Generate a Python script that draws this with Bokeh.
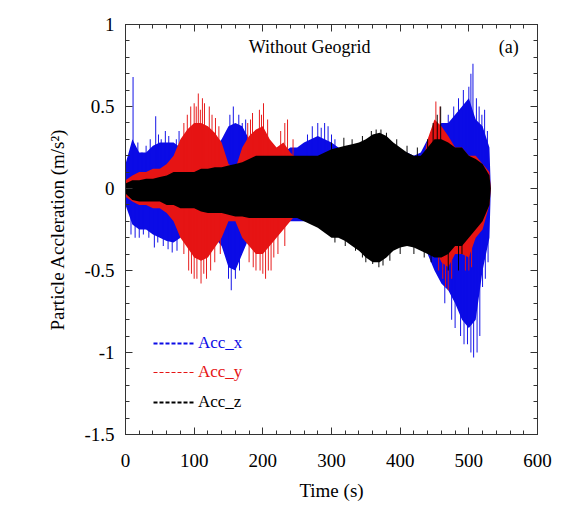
from bokeh.plotting import figure
from bokeh.models import (LinearAxis, SingleIntervalTicker, Label, Legend, LegendItem)
from bokeh.embed import file_html
from bokeh.resources import INLINE

# ---- data (envelopes, every 10 s) ----
time = [0, 10, 20, 30, 40, 50, 60, 70, 80, 90, 100, 110, 120, 130, 140, 150, 160, 170, 180, 190,
        200, 210, 220, 230, 240, 250, 260, 270, 280, 290, 300, 310, 320, 330, 340, 350, 360, 370,
        380, 390, 400, 410, 420, 430, 440, 450, 460, 470, 480, 490, 500, 510, 520, 530, 532]

acc_x_upper = [0.15, 0.3, 0.22, 0.22, 0.26, 0.28, 0.28, 0.28, 0.25, 0.2, 0.2, 0.2, 0.22, 0.25, 0.3,
               0.38, 0.4, 0.38, 0.3, 0.25, 0.25, 0.22, 0.22, 0.22, 0.25, 0.25, 0.28, 0.3, 0.32, 0.3,
               0.28, 0.25, 0.22, 0.2, 0.2, 0.2, 0.2, 0.2, 0.2, 0.2, 0.22, 0.22, 0.2, 0.22, 0.3,
               0.35, 0.4, 0.4, 0.45, 0.5, 0.55, 0.42, 0.38, 0.25, 0.0]
acc_x_lower = [-0.1, -0.22, -0.25, -0.25, -0.28, -0.3, -0.32, -0.33, -0.3, -0.25, -0.25, -0.25,
               -0.25, -0.3, -0.35, -0.48, -0.5, -0.4, -0.3, -0.25, -0.25, -0.2, -0.2, -0.2, -0.2,
               -0.2, -0.2, -0.2, -0.22, -0.25, -0.25, -0.25, -0.25, -0.25, -0.25, -0.25, -0.25,
               -0.25, -0.25, -0.25, -0.25, -0.25, -0.28, -0.3, -0.4, -0.5, -0.58, -0.62, -0.7,
               -0.8, -0.85, -0.8, -0.5, -0.3, 0.0]

acc_y_upper = [0.05, 0.08, 0.1, 0.1, 0.12, 0.12, 0.15, 0.2, 0.3, 0.36, 0.4, 0.4, 0.38, 0.34, 0.28,
               0.15, 0.12, 0.25, 0.32, 0.36, 0.38, 0.3, 0.25, 0.28, 0.22, 0.18, 0.15, 0.12, 0.1,
               0.1, 0.1, 0.1, 0.1, 0.1, 0.1, 0.1, 0.1, 0.1, 0.1, 0.1, 0.1, 0.1, 0.1, 0.1, 0.3,
               0.42, 0.38, 0.32, 0.25, 0.25, 0.2, 0.2, 0.15, 0.1, 0.0]
acc_y_lower = [-0.05, -0.08, -0.1, -0.1, -0.12, -0.12, -0.15, -0.2, -0.3, -0.36, -0.42, -0.44,
               -0.42, -0.36, -0.3, -0.2, -0.2, -0.3, -0.35, -0.4, -0.4, -0.35, -0.3, -0.25, -0.2,
               -0.15, -0.12, -0.12, -0.12, -0.12, -0.12, -0.12, -0.12, -0.12, -0.12, -0.12, -0.12,
               -0.12, -0.12, -0.12, -0.12, -0.12, -0.12, -0.12, -0.25, -0.35, -0.45, -0.48, -0.4,
               -0.4, -0.42, -0.3, -0.25, -0.1, 0.0]

acc_z_upper = [0.03, 0.05, 0.05, 0.06, 0.06, 0.07, 0.08, 0.1, 0.1, 0.1, 0.1, 0.12, 0.12, 0.13,
               0.13, 0.14, 0.15, 0.16, 0.18, 0.2, 0.2, 0.2, 0.2, 0.2, 0.2, 0.2, 0.2, 0.2, 0.2,
               0.22, 0.24, 0.25, 0.26, 0.27, 0.28, 0.3, 0.33, 0.34, 0.32, 0.28, 0.25, 0.22, 0.2,
               0.2, 0.25, 0.3, 0.3, 0.28, 0.25, 0.25, 0.2, 0.18, 0.15, 0.08, 0.0]
acc_z_lower = [-0.03, -0.07, -0.08, -0.08, -0.08, -0.08, -0.1, -0.1, -0.12, -0.12, -0.12, -0.14,
               -0.15, -0.15, -0.15, -0.16, -0.17, -0.17, -0.18, -0.18, -0.18, -0.18, -0.18, -0.18,
               -0.18, -0.18, -0.2, -0.22, -0.24, -0.27, -0.3, -0.3, -0.32, -0.35, -0.38, -0.42,
               -0.45, -0.45, -0.42, -0.38, -0.36, -0.35, -0.36, -0.38, -0.4, -0.42, -0.42, -0.4,
               -0.35, -0.35, -0.3, -0.25, -0.2, -0.1, 0.0]

# individual peaks standing out of the envelopes (time, value)
x_peak_t = [5, 11, 18, 24, 30, 36, 44, 48, 52, 58, 63, 74, 78, 152, 157, 165, 170, 175,
            265, 272, 280, 285, 290, 295, 300, 305,
            470, 478, 485, 492, 496, 500, 503, 506, 511, 515, 519, 523, 527,
            8, 14, 20, 26, 34, 42, 47, 55, 62, 68, 75, 150, 154, 160, 166,
            465, 475, 480, 488, 493, 498, 503, 507, 512, 516, 520, 524, 528]
x_peak_v = [0.2, 0.68, 0.28, 0.22, 0.26, 0.3, 0.44, 0.33, 0.3, 0.35, 0.32, 0.3, 0.35,
            0.45, 0.5, 0.45, 0.4, 0.42,
            0.33, 0.38, 0.4, 0.37, 0.4, 0.38, 0.33, 0.3,
            0.45, 0.5, 0.55, 0.6, 0.5, 0.62, 0.7, 0.76, 0.55, 0.5, 0.45, 0.48, 0.35,
            -0.28, -0.3, -0.3, -0.28, -0.3, -0.36, -0.33, -0.35, -0.37, -0.39, -0.38,
            -0.55, -0.62, -0.55, -0.5,
            -0.7, -0.8, -0.85, -0.9, -0.95, -0.95, -1.0, -1.03, -1.0, -0.9, -0.6, -0.55, -0.45]
y_peak_t = [85, 90, 95, 100, 103, 106, 109, 112, 115, 122, 126, 131, 136,
            178, 182, 185, 195, 198, 201, 207, 226, 232, 236, 244, 452, 458,
            85, 92, 96, 100, 104, 110, 114, 118, 124, 130, 138,
            180, 186, 190, 196, 200, 204, 208, 212, 216, 222, 232,
            456, 462, 466, 470, 475, 495, 500, 504]
y_peak_v = [0.4, 0.45, 0.5, 0.52, 0.5, 0.58, 0.48, 0.55, 0.52, 0.5, 0.45, 0.43, 0.38,
            0.4, 0.42, 0.46, 0.48, 0.45, 0.52, 0.42, 0.35, 0.4, 0.42, 0.3, 0.53, 0.5,
            -0.4, -0.5, -0.52, -0.55, -0.55, -0.58, -0.52, -0.55, -0.5, -0.45, -0.4,
            -0.45, -0.48, -0.5, -0.5, -0.52, -0.55, -0.5, -0.5, -0.42, -0.4, -0.35,
            -0.5, -0.55, -0.6, -0.62, -0.55, -0.5, -0.5, -0.48]
z_peak_t = [300, 318, 330, 345, 358, 365, 372, 380, 395, 410, 425, 440, 448, 454, 459,
            305, 320, 335, 345, 350, 360, 369, 375, 385, 400, 420, 435, 445, 470, 485, 490]
z_peak_v = [0.28, 0.31, 0.3, 0.32, 0.35, 0.36, 0.36, 0.34, 0.3, 0.26, 0.25, 0.3, 0.4, 0.45, 0.5,
            -0.33, -0.35, -0.38, -0.42, -0.45, -0.46, -0.48, -0.47, -0.44, -0.4, -0.4, -0.42,
            -0.45, -0.5, -0.5, -0.4]

x_ticks_interval = 100
y_ticks_interval = 0.5
y_tick_labels = {-1.5: "-1.5", -1.0: "-1", -0.5: "-0.5", 0.0: "0", 0.5: "0.5", 1.0: "1"}
series_names = ["Acc_x", "Acc_y", "Acc_z"]

BLUE = "#0b0be6"
RED = "#e61414"
BLACK = "#000000"
FONT = "Liberation Serif"
NAN = float("nan")

p = figure(width=555, height=516, x_range=(0, 600), y_range=(-1.5, 1),
           output_backend="svg", toolbar_location=None,
           min_border_left=125, min_border_right=18, min_border_top=24, min_border_bottom=82)
p.grid.visible = False
p.outline_line_color = "#333333"
p.background_fill_color = "white"

for up, lo, pt, pv, col in [(acc_x_upper, acc_x_lower, x_peak_t, x_peak_v, BLUE),
                            (acc_y_upper, acc_y_lower, y_peak_t, y_peak_v, RED),
                            (acc_z_upper, acc_z_lower, z_peak_t, z_peak_v, BLACK)]:
    p.varea(x=time, y1=lo, y2=up, fill_color=col)
    p.vbar(x=pt, bottom=[0] * len(pt), top=pv, width=1.4, fill_color=col, line_color=None)

# axes styling
def style_axis(ax, ticker, show_labels):
    ax.ticker = ticker
    ax.major_tick_in = 7
    ax.major_tick_out = 0
    ax.minor_tick_in = 4
    ax.minor_tick_out = 0
    ax.axis_line_color = "#333333"
    ax.major_tick_line_color = "#333333"
    ax.minor_tick_line_color = "#333333"
    if show_labels:
        ax.major_label_text_font = FONT
        ax.major_label_text_font_size = "19px"
        ax.major_label_text_color = "black"
        ax.axis_label_text_font = FONT
        ax.axis_label_text_font_size = "19px"
        ax.axis_label_text_font_style = "normal"
        ax.axis_label_text_color = "black"
    else:
        ax.major_label_text_font_size = "6px"
        ax.major_label_text_color = None
        ax.major_label_standoff = 0
        ax.axis_label = None

xt = SingleIntervalTicker(interval=x_ticks_interval, num_minor_ticks=5)
yt = SingleIntervalTicker(interval=y_ticks_interval, num_minor_ticks=5)

style_axis(p.xaxis[0], xt, True)
p.xaxis[0].axis_label = "Time (s)"
p.xaxis[0].major_label_standoff = 19
p.xaxis[0].axis_label_standoff = 10

style_axis(p.yaxis[0], yt, True)
p.yaxis[0].axis_label = "Particle Accleration (m/s²)"
p.yaxis[0].major_label_overrides = y_tick_labels
p.yaxis[0].major_label_standoff = 11
p.yaxis[0].axis_label_standoff = 13

top = LinearAxis()
style_axis(top, SingleIntervalTicker(interval=x_ticks_interval, num_minor_ticks=5), False)
p.add_layout(top, "above")
right = LinearAxis()
style_axis(right, SingleIntervalTicker(interval=y_ticks_interval, num_minor_ticks=5), False)
p.add_layout(right, "right")

# annotations
p.add_layout(Label(x=268, y=0.865, text="Without Geogrid", text_align="center",
                   text_baseline="middle", text_font=FONT, text_font_size="18px",
                   text_color="black"))
p.add_layout(Label(x=558, y=0.865, text="(a)", text_align="center",
                   text_baseline="middle", text_font=FONT, text_font_size="18px",
                   text_color="black"))

# legends (one per series so each label keeps its colour)
legend_specs = [(series_names[0], BLUE, 2, (28, 81)),
                (series_names[1], RED, 1, (28, 52)),
                (series_names[2], BLACK, 2, (28, 22))]
for name, col, lw, loc in legend_specs:
    r = p.line(x=[NAN, NAN], y=[NAN, NAN], line_color=col, line_width=lw, line_dash="4 2")
    leg = Legend(items=[LegendItem(label=name, renderers=[r])], location=loc,
                 glyph_width=42, glyph_height=20, label_height=20,
                 label_text_font=FONT, label_text_font_size="17px", label_text_color=col,
                 label_standoff=3, padding=0, margin=0, spacing=0,
                 border_line_alpha=0, background_fill_alpha=0)
    p.add_layout(leg)

open("out.html", "w").write(file_html(p, INLINE))
